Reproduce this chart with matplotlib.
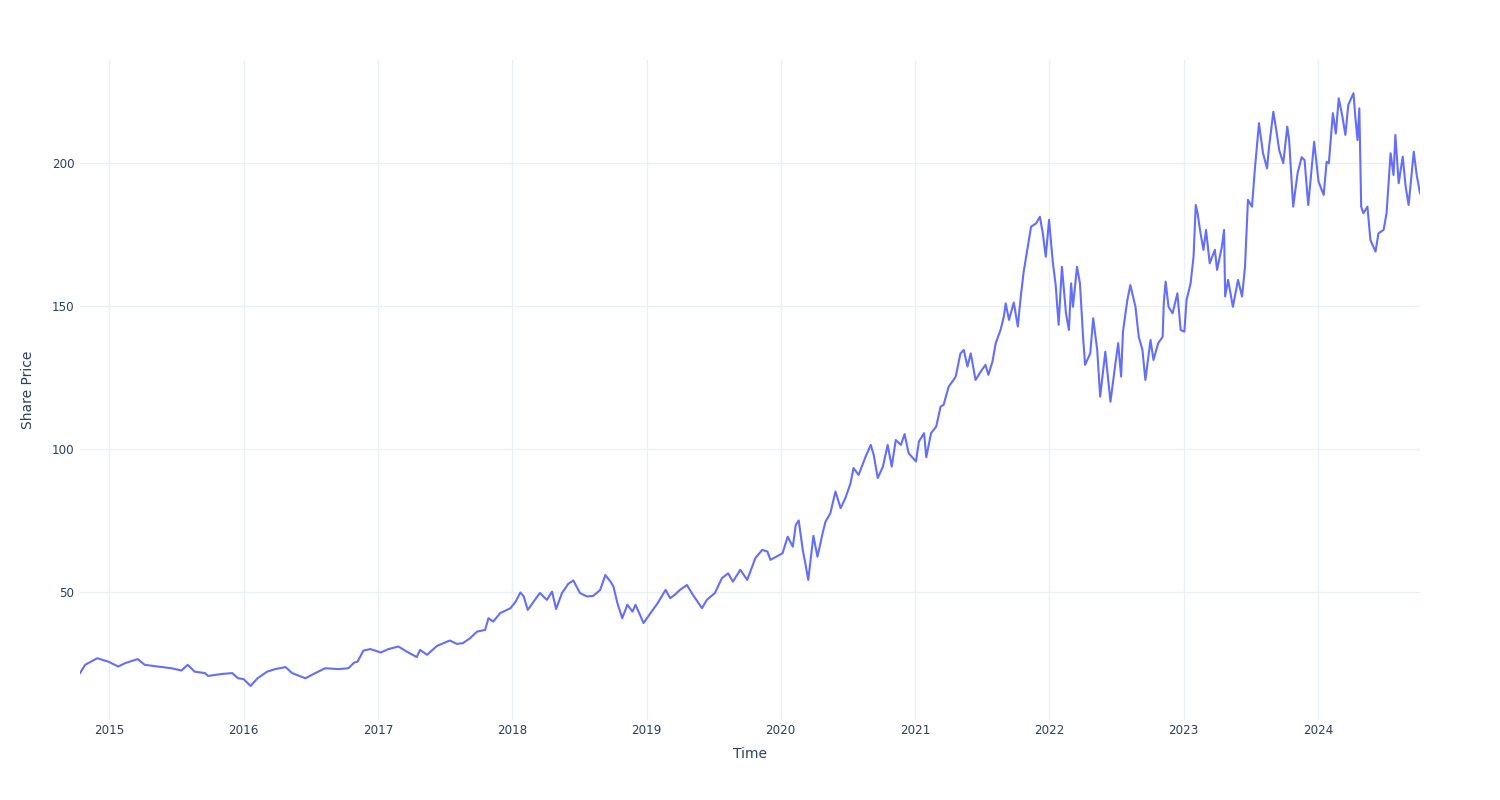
import matplotlib
matplotlib.use("Agg")
import matplotlib.pyplot as plt
import matplotlib.dates as mdates
import pandas as pd

dates = [
    "2014-10-13", "2014-10-27", "2014-11-29", "2014-12-29", "2015-01-25", "2015-02-13",
    "2015-03-19", "2015-04-07", "2015-05-12", "2015-06-19", "2015-07-16", "2015-08-02",
    "2015-08-21", "2015-09-18", "2015-09-26", "2015-11-03", "2015-12-01", "2015-12-17",
    "2016-01-01", "2016-01-20", "2016-02-08", "2016-03-05", "2016-03-27", "2016-04-24",
    "2016-05-12", "2016-06-17", "2016-07-14", "2016-08-10", "2016-09-15", "2016-10-12",
    "2016-10-28", "2016-11-06", "2016-11-22", "2016-12-11", "2017-01-08", "2017-01-29",
    "2017-02-25", "2017-03-20", "2017-04-16", "2017-04-25", "2017-05-14", "2017-06-10",
    "2017-07-15", "2017-08-03", "2017-08-20", "2017-09-08", "2017-09-27", "2017-10-19",
    "2017-10-28", "2017-11-10", "2017-11-29", "2017-12-27", "2018-01-10", "2018-01-23",
    "2018-02-01", "2018-02-12", "2018-02-28", "2018-03-17", "2018-04-05", "2018-04-19",
    "2018-04-30", "2018-05-16", "2018-06-02", "2018-06-16", "2018-07-04", "2018-07-23",
    "2018-08-09", "2018-08-28", "2018-09-11", "2018-09-25", "2018-10-03", "2018-10-14",
    "2018-10-27", "2018-11-10", "2018-11-24", "2018-12-02", "2018-12-24", "2019-01-12",
    "2019-01-31", "2019-02-22", "2019-03-06", "2019-03-19", "2019-04-02", "2019-04-21",
    "2019-05-07", "2019-06-01", "2019-06-14", "2019-07-06", "2019-07-25", "2019-08-11",
    "2019-08-24", "2019-09-13", "2019-10-02", "2019-10-24", "2019-11-12", "2019-11-26",
    "2019-12-04", "2020-01-06", "2020-01-20", "2020-02-03", "2020-02-11", "2020-02-19",
    "2020-03-01", "2020-03-08", "2020-03-16", "2020-03-30", "2020-04-10", "2020-04-24",
    "2020-05-02", "2020-05-15", "2020-05-29", "2020-06-12", "2020-06-25", "2020-07-09",
    "2020-07-17", "2020-07-31", "2020-08-19", "2020-09-02", "2020-09-10", "2020-09-21",
    "2020-10-05", "2020-10-18", "2020-10-29", "2020-11-09", "2020-11-23", "2020-12-03",
    "2020-12-14", "2021-01-03", "2021-01-11", "2021-01-25", "2021-01-31", "2021-02-13",
    "2021-02-27", "2021-03-11", "2021-03-19", "2021-04-02", "2021-04-15", "2021-04-21",
    "2021-05-04", "2021-05-13", "2021-05-23", "2021-06-01", "2021-06-14", "2021-06-28",
    "2021-07-11", "2021-07-19", "2021-07-30", "2021-08-08", "2021-08-21", "2021-08-30",
    "2021-09-04", "2021-09-13", "2021-09-26", "2021-10-07", "2021-10-15", "2021-10-23",
    "2021-11-04", "2021-11-12", "2021-11-26", "2021-12-06", "2021-12-14", "2021-12-22",
    "2021-12-31", "2022-01-10", "2022-01-18", "2022-01-26", "2022-02-04", "2022-02-15",
    "2022-02-23", "2022-03-01", "2022-03-06", "2022-03-17", "2022-03-25", "2022-04-03",
    "2022-04-08", "2022-04-22", "2022-04-30", "2022-05-11", "2022-05-19", "2022-06-02",
    "2022-06-16", "2022-06-29", "2022-07-07", "2022-07-15", "2022-07-20", "2022-08-01",
    "2022-08-09", "2022-08-23", "2022-09-01", "2022-09-11", "2022-09-19", "2022-10-03",
    "2022-10-11", "2022-10-24", "2022-11-05", "2022-11-08", "2022-11-13", "2022-11-21",
    "2022-12-02", "2022-12-15", "2022-12-24", "2023-01-03", "2023-01-09", "2023-01-20",
    "2023-01-28", "2023-02-03", "2023-02-08", "2023-02-16", "2023-02-24", "2023-03-03",
    "2023-03-13", "2023-03-27", "2023-04-02", "2023-04-15", "2023-04-21", "2023-04-24",
    "2023-05-02", "2023-05-15", "2023-05-29", "2023-06-09", "2023-06-17", "2023-06-25",
    "2023-07-06", "2023-07-14", "2023-07-25", "2023-08-05", "2023-08-16", "2023-08-21",
    "2023-09-02", "2023-09-10", "2023-09-18", "2023-09-29", "2023-10-10", "2023-10-15",
    "2023-10-26", "2023-11-07", "2023-11-18", "2023-11-26", "2023-12-06", "2023-12-22",
    "2024-01-03", "2024-01-17", "2024-01-25", "2024-01-31", "2024-02-11", "2024-02-19",
    "2024-02-27", "2024-03-08", "2024-03-16", "2024-03-24", "2024-04-07", "2024-04-12",
    "2024-04-18", "2024-04-23", "2024-04-28", "2024-05-04", "2024-05-15", "2024-05-23",
    "2024-06-06", "2024-06-14", "2024-06-28", "2024-07-06", "2024-07-17", "2024-07-25",
    "2024-07-30", "2024-08-08", "2024-08-19", "2024-08-27", "2024-09-04", "2024-09-18",
    "2024-09-26", "2024-10-05",
]

prices = [
    21.6, 24.5, 26.8, 25.6, 23.9, 25.1,
    26.5, 24.5, 23.9, 23.3, 22.5, 24.5,
    22.1, 21.6, 20.6, 21.3, 21.6, 19.8,
    19.5, 17.1, 19.8, 22.1, 23.0, 23.7,
    21.6, 19.8, 21.6, 23.3, 23.0, 23.3,
    25.3, 25.6, 29.5, 30.0, 28.8, 30.0,
    30.9, 29.1, 27.2, 29.7, 28.0, 31.1,
    33.0, 31.8, 32.1, 33.8, 36.1, 36.7,
    40.8, 39.6, 42.6, 44.3, 46.6, 49.8,
    48.4, 43.7, 46.6, 49.6, 47.2, 50.1,
    44.0, 49.6, 52.8, 54.0, 49.6, 48.4,
    48.6, 50.7, 55.9, 53.6, 51.9, 46.0,
    40.8, 45.5, 43.1, 45.5, 39.1, 42.6,
    46.0, 50.7, 47.8, 49.0, 50.7, 52.4,
    49.0, 44.3, 47.2, 49.6, 54.8, 56.5,
    53.6, 57.7, 54.2, 61.8, 64.7, 64.1,
    61.2, 63.5, 69.3, 65.8, 73.4, 75.0,
    64.7, 60.0, 54.2, 69.6, 62.3, 70.5,
    74.6, 77.5, 85.1, 79.3, 82.8, 88.0,
    93.3, 90.9, 97.3, 101.4, 97.9, 89.8,
    93.8, 101.4, 93.8, 103.1, 101.4, 105.2,
    98.5, 95.6, 102.6, 105.5, 97.1, 105.5,
    107.8, 114.8, 115.4, 121.8, 124.1, 125.3,
    133.4, 134.6, 128.8, 133.4, 124.1, 127.0,
    129.4, 125.9, 130.5, 137.0, 141.6, 146.3,
    150.9, 145.1, 151.2, 142.8, 153.3, 162.0,
    171.3, 177.7, 178.9, 181.2, 175.4, 167.2,
    180.1, 165.5, 157.3, 143.4, 163.7, 147.4,
    141.6, 157.9, 149.7, 163.7, 157.9, 138.1,
    129.4, 133.4, 145.7, 134.6, 118.3, 134.0,
    116.5, 129.4, 137.0, 125.3, 141.0, 152.1,
    157.3, 149.7, 139.2, 134.6, 124.1, 138.1,
    131.1, 137.0, 139.2, 150.9, 158.5, 149.7,
    147.4, 154.4, 141.6, 141.0, 152.1, 157.9,
    167.2, 185.3, 182.4, 175.4, 169.6, 176.6,
    164.9, 169.6, 162.6, 170.7, 176.6, 153.3,
    159.1, 149.7, 159.1, 153.3, 163.7, 187.1,
    184.7, 198.1, 213.9, 203.4, 198.1, 205.1,
    217.9, 211.5, 204.5, 199.9, 212.7, 208.0,
    184.7, 196.4, 202.0, 201.0, 185.3, 207.4,
    193.5, 188.8, 200.4, 199.9, 217.4, 210.3,
    222.6, 216.2, 209.8, 220.3, 224.4, 216.2,
    208.0, 219.1, 184.7, 182.4, 184.7, 173.1,
    169.0, 175.4, 176.6, 182.4, 203.4, 195.8,
    209.8, 192.9, 202.2, 191.7, 185.3, 203.9,
    195.8, 189.4,
]

x = pd.to_datetime(dates)

plt.rcParams["font.family"] = ["DejaVu Sans"]
fig = plt.figure(figsize=(15, 8), dpi=100)
ax = fig.add_axes([80 / 1500, 80 / 800, 1340 / 1500, 660 / 800])

ax.plot(x, prices, color="#636efa", linewidth=1.5)

ax.set_xlim(x[0], x[-1])
ax.set_ylim(5.2, 236)
ax.set_yticks([50, 100, 150, 200])
ax.xaxis.set_major_locator(mdates.YearLocator())
ax.xaxis.set_major_formatter(mdates.DateFormatter("%Y"))

ax.grid(True, color="#ebf0f8", linewidth=1)
ax.set_axisbelow(True)
for s in ax.spines.values():
    s.set_visible(False)
ax.tick_params(length=0, labelsize=8.6, colors="#2a3f5f")
ax.tick_params(axis="x", pad=3)
ax.tick_params(axis="y", pad=4)

ax.set_xlabel("Time", fontsize=10, color="#2a3f5f", labelpad=7)
ax.set_ylabel("Share Price", fontsize=10, color="#2a3f5f", labelpad=12)

fig.savefig("out.png", dpi=100, facecolor="white")
